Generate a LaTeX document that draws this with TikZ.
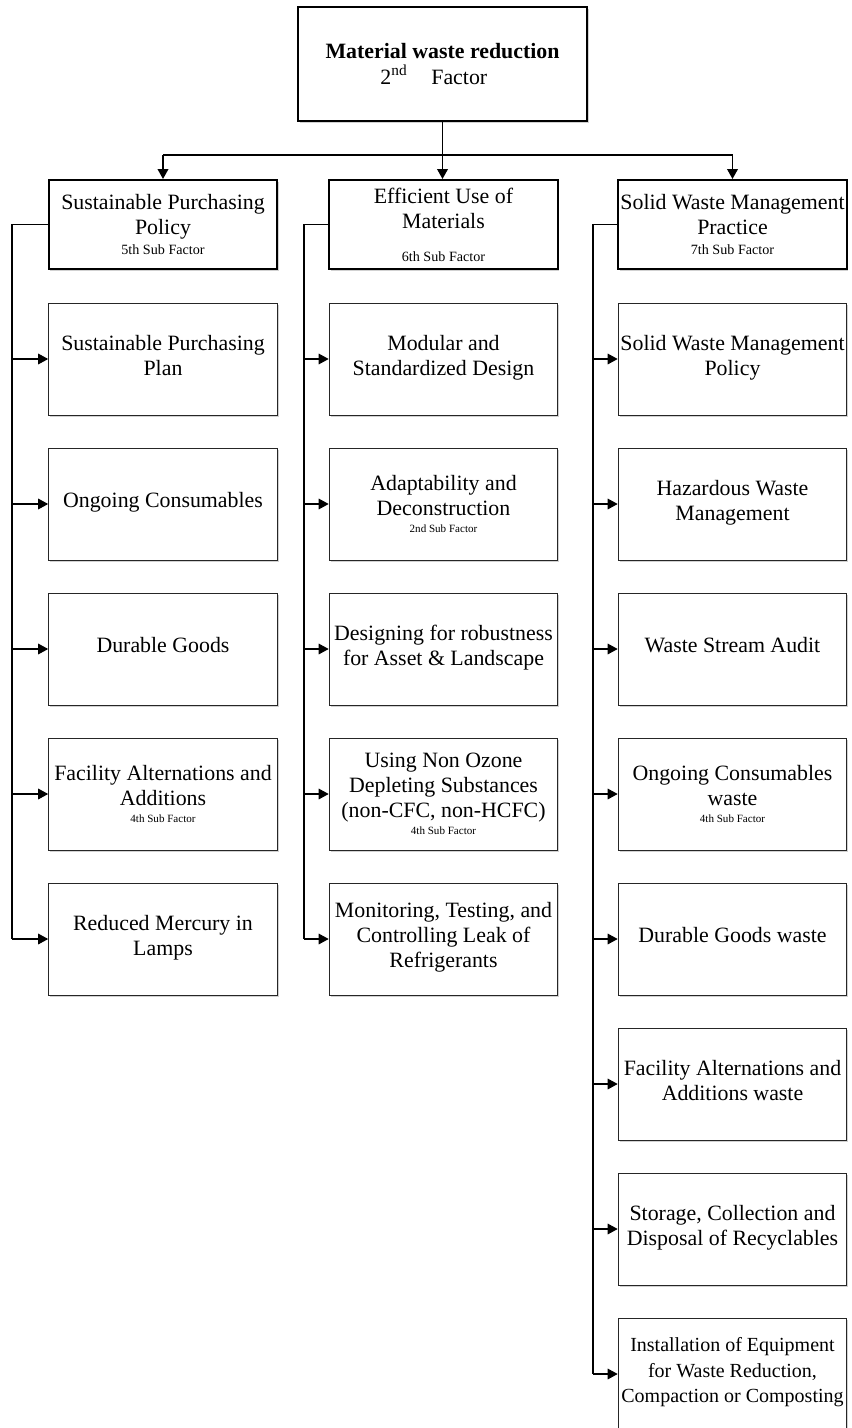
\documentclass[tikz,border=0pt]{standalone}
\usepackage{fontspec}
\setmainfont{Liberation Serif}
\usetikzlibrary{arrows.meta,shadows}

% text sizes used in the chart
\newcommand{\maintxt}{\fontsize{16.4}{18.8}\selectfont}
\newcommand{\headnote}[1]{{\fontsize{10.6}{12}\selectfont #1}}
\newcommand{\boxnote}[1]{{\fontsize{8.3}{10}\selectfont #1}}

\begin{document}
\begin{tikzpicture}[x=0.75pt,y=-0.75pt,
  every node/.style={font=\maintxt, align=center, inner sep=0pt},
  softshadow/.style={drop shadow={shadow xshift=1.2pt, shadow yshift=-1.2pt, opacity=0.18, fill=black}},
  basebox/.style={fill=white, minimum width=171.5pt, softshadow},
  framebox/.style={basebox, draw=black!85, line width=0.75pt, minimum height=84pt},
  % item boxes: thin frame, text set a little above the middle
  itembox/.style={framebox, execute at end node={\rule[-6pt]{0pt}{0pt}}},
  % item boxes carrying a small note: text centred
  notebox/.style={framebox},
  headbox/.style={basebox, draw=black, line width=1.5pt, minimum height=66.75pt},
  topbox/.style={headbox, minimum width=216.75pt, minimum height=85.5pt},
  link/.style={draw=black, line width=1.2pt, line join=miter},
  downarrow/.style={link, -{Triangle[length=7.5pt,width=8pt]}},
  stub/.style={draw=black, line width=0.8pt, -{Triangle[length=7.5pt,width=8pt]}},
]
\useasboundingbox (0,0) rectangle (852,1428);
\clip (0,0) rectangle (852,1428);

% main factor
\node[topbox] (root) at (442.5,64)
  {\textbf{Material waste reduction}\\2\textsuperscript{nd}\hspace{18pt}Factor\hspace*{13pt}};

% sub factors
\node[headbox] (h1) at (163,224.5)
  {Sustainable Purchasing\\Policy\\[-3.8pt]\headnote{5th Sub Factor}};
\node[headbox] (h2) at (443.5,224.5)
  {Efficient Use of\\Materials\\[6pt]\headnote{6th Sub Factor}};
\node[headbox] (h3) at (732.5,224.5)
  {Solid Waste Management\\Practice\\[-3.8pt]\headnote{7th Sub Factor}};

% items of the 5th sub factor
\node[itembox] (a1) at (163,359) {Sustainable Purchasing\\Plan};
\node[itembox] (a2) at (163,504) {Ongoing Consumables};
\node[itembox] (a3) at (163,649) {Durable Goods};
\node[notebox] (a4) at (163,794)
  {Facility Alternations and\\Additions\\[-6pt]\boxnote{4th Sub Factor}};
\node[itembox] (a5) at (163,939) {Reduced Mercury in\\Lamps};

% items of the 6th sub factor
\node[itembox] (b1) at (443.5,359) {Modular and\\Standardized Design};
\node[notebox] (b2) at (443.5,504)
  {Adaptability and\\Deconstruction\\[-6pt]\boxnote{2nd Sub Factor}};
\node[itembox] (b3) at (443.5,649) {Designing for robustness\\for Asset \& Landscape};
\node[notebox] (b4) at (443.5,794)
  {Using Non Ozone\\Depleting Substances\\(non-CFC, non-HCFC)\\[-6pt]\boxnote{4th Sub Factor}};
\node[itembox] (b5) at (443.5,939)
  {Monitoring, Testing, and\\Controlling Leak of\\Refrigerants};

% items of the 7th sub factor
\node[itembox] (c1) at (732.5,359) {Solid Waste Management\\Policy};
\node[itembox] (c2) at (732.5,504) {Hazardous Waste\\Management};
\node[itembox] (c3) at (732.5,649) {Waste Stream Audit};
\node[notebox] (c4) at (732.5,794)
  {Ongoing Consumables\\waste\\[-6pt]\boxnote{4th Sub Factor}};
\node[itembox] (c5) at (732.5,939) {Durable Goods waste};
\node[itembox] (c6) at (732.5,1084) {Facility Alternations and\\Additions waste};
\node[itembox] (c7) at (732.5,1229) {Storage, Collection and\\Disposal of Recyclables};
\node[itembox, font=\fontsize{15}{18.8}\selectfont] (c8) at (732.5,1374)
  {Installation of Equipment\\for Waste Reduction,\\Compaction or Composting};

% fork from the main factor to the sub factors
\coordinate (fork) at (442.5,155);
\draw[link] (fork -| h1.north) -- (fork -| h3.north);
\draw[downarrow] (fork -| h1.north) -- (h1.north);
\draw[downarrow] (root.south) -- (root.south |- h2.north);
\draw[downarrow] (fork -| h3.north) -- (h3.north);

% side buses down each column
\coordinate (busA) at (12,225);
\coordinate (busB) at (304,225);
\coordinate (busC) at (593,225);
\draw[link] (h1.west) -| (busA |- a5.west);
\draw[link] (h2.west) -| (busB |- b5.west);
\draw[link] (h3.west) -| (busC |- c8.west);

\foreach \n in {a1,a2,a3,a4,a5} \draw[stub] (busA |- \n.west) -- (\n.west);
\foreach \n in {b1,b2,b3,b4,b5} \draw[stub] (busB |- \n.west) -- (\n.west);
\foreach \n in {c1,c2,c3,c4,c5,c6,c7,c8} \draw[stub] (busC |- \n.west) -- (\n.west);
\end{tikzpicture}
\end{document}
